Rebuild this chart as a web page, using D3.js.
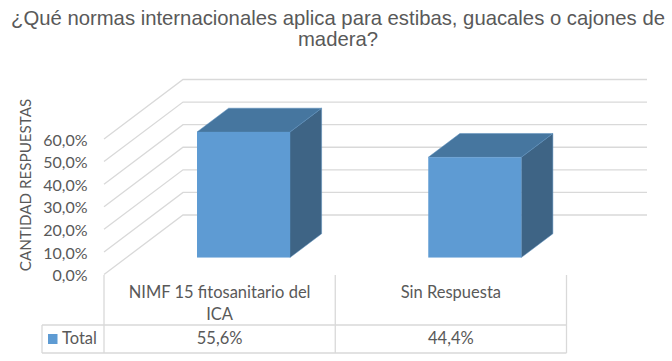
<!DOCTYPE html>
<html>
<head>
<meta charset="utf-8">
<script src="https://cdn.jsdelivr.net/npm/d3@7"></script>
<style>
  html, body { margin: 0; padding: 0; background: #fff; }
  svg { display: block; }
  text { fill: #595959; }
</style>
</head>
<body>
<svg id="chart"></svg>
<script>
// Chart values
const titleLines = ["¿Qué normas internacionales aplica para estibas, guacales o cajones de", "madera?"];
const categories = ["NIMF 15 fitosanitario del|ICA", "Sin Respuesta"];
const values = [55.6, 44.4];
const valueLabels = ["55,6%", "44,4%"];
const ticks = [0, 10, 20, 30, 40, 50, 60];
const seriesName = "Total";
const yTitle = "CANTIDAD RESPUESTAS";

const width = 672, height = 361;
const labelFont = "Lato, sans-serif";
const gridColor = "#d9d9d9";

const svg = d3.select("#chart").attr("width", width).attr("height", height);

// Scales, front plane of the 3D box
const x = d3.scaleBand().domain(categories).range([104, 566.5]);
const y = d3.scaleLinear().domain([0, 60]).range([274.5, 139]);

// Depth goes 0 (front) to 1 (back wall)
const depth = d3.scaleLinear().domain([0, 1]).range([0, 79]);
const rise = d3.scaleLinear().domain([0, 1]).range([0, 59.5]);
const px = (sx, d) => sx + depth(d);
const py = (v, d) => y(v) - rise(d);
const wallRight = 647;

// Gridlines: diagonal on the side wall then straight along the back
svg.append("g").selectAll("path")
  .data(ticks)
  .enter()
  .append("path")
  .attr("fill", "none")
  .attr("stroke", gridColor)
  .attr("stroke-width", 1.3)
  .attr("d", d => d3.line()([
    [px(104, 0), py(d, 0)],
    [px(104, 1), py(d, 1)],
    [wallRight, py(d, 1)]
  ]));

// Bars
const barFront = 0.285, barBack = 0.685;
const barPad = 70.5, barWidth = 93;
const bars = svg.append("g").selectAll("g")
  .data(categories.map((c, i) => ({ c, v: values[i] })))
  .enter()
  .append("g");

const poly = pts => d3.line()(pts) + "Z";

// Side face
bars.append("path")
  .attr("fill", "#3e6485")
  .attr("stroke", "#5b8fbd")
  .attr("stroke-width", 0.5)
  .attr("d", d => {
    const r = x(d.c) + barPad + barWidth;
    return poly([
      [px(r, barFront), py(0, barFront)],
      [px(r, barBack), py(0, barBack)],
      [px(r, barBack), py(d.v, barBack)],
      [px(r, barFront), py(d.v, barFront)]
    ]);
  });

// Top face
bars.append("path")
  .attr("fill", "#46769f")
  .attr("stroke", "#5b8fbd")
  .attr("stroke-width", 0.5)
  .attr("d", d => {
    const l = x(d.c) + barPad, r = l + barWidth;
    return poly([
      [px(l, barFront), py(d.v, barFront)],
      [px(r, barFront), py(d.v, barFront)],
      [px(r, barBack), py(d.v, barBack)],
      [px(l, barBack), py(d.v, barBack)]
    ]);
  });

// Front face
bars.append("rect")
  .attr("fill", "#5e9bd3")
  .attr("x", d => px(x(d.c) + barPad, barFront))
  .attr("y", d => py(d.v, barFront))
  .attr("width", barWidth)
  .attr("height", d => y(0) - y(d.v));

// Y axis labels
const yAxis = svg.append("g")
  .attr("transform", "translate(87.5,1)")
  .call(d3.axisLeft(y).tickValues(ticks).tickSize(0).tickPadding(0)
    .tickFormat(d => d3.format(".1f")(d).replace(".", ",") + "%"));
yAxis.select(".domain").remove();
yAxis.selectAll("text")
  .style("font-family", labelFont)
  .style("font-size", "16px")
  .style("fill", "#595959");

// Y axis title
svg.append("text")
  .attr("transform", "translate(31,185) rotate(-90)")
  .attr("text-anchor", "middle")
  .attr("font-family", labelFont)
  .attr("font-size", "15.2px")
  .text(yTitle);

// Chart title
svg.append("g").selectAll("text")
  .data(titleLines)
  .enter()
  .append("text")
  .attr("x", 338)
  .attr("y", (d, i) => 24.5 + i * 21.5)
  .attr("text-anchor", "middle")
  .attr("font-family", "'Liberation Sans', Arial, sans-serif")
  .attr("font-size", "20.3px")
  .text(d => d);

// Data table lines
const tableTop = 275, headerBottom = 325, tableBottom = 353, legendLeft = 42;
const tableLines = [
  [legendLeft, headerBottom, 566.5, headerBottom],
  [legendLeft, tableBottom, 566.5, tableBottom],
  [legendLeft, headerBottom, legendLeft, tableBottom],
  [x.range()[0], tableTop, x.range()[0], tableBottom],
  ...categories.map(c => [x(c) + x.bandwidth(), tableTop, x(c) + x.bandwidth(), tableBottom])
];
svg.append("g").selectAll("line")
  .data(tableLines)
  .enter()
  .append("line")
  .attr("x1", d => d[0])
  .attr("y1", d => d[1])
  .attr("x2", d => d[2])
  .attr("y2", d => d[3])
  .attr("stroke", gridColor)
  .attr("stroke-width", 1.3);

// Category headers
const headers = svg.append("g").selectAll("text")
  .data(categories)
  .enter()
  .append("text")
  .attr("text-anchor", "middle")
  .attr("font-family", labelFont)
  .attr("font-size", "16.5px");
headers.each(function(d) {
  d3.select(this).selectAll("tspan")
    .data(d.split("|"))
    .enter()
    .append("tspan")
    .attr("x", x(d) + x.bandwidth() / 2)
    .attr("y", (t, i) => 298 + i * 22)
    .text(t => t);
});

// Value row
svg.append("g").selectAll("text")
  .data(categories)
  .enter()
  .append("text")
  .attr("x", d => x(d) + x.bandwidth() / 2)
  .attr("y", 344)
  .attr("text-anchor", "middle")
  .attr("font-family", labelFont)
  .attr("font-size", "16.5px")
  .text((d, i) => valueLabels[i]);

// Legend key
svg.append("rect")
  .attr("x", 48)
  .attr("y", 334)
  .attr("width", 9.5)
  .attr("height", 10)
  .attr("fill", "#5e9bd3");
svg.append("text")
  .attr("x", 62)
  .attr("y", 344)
  .attr("font-family", labelFont)
  .attr("font-size", "16.5px")
  .text(seriesName);
</script>
</body>
</html>
